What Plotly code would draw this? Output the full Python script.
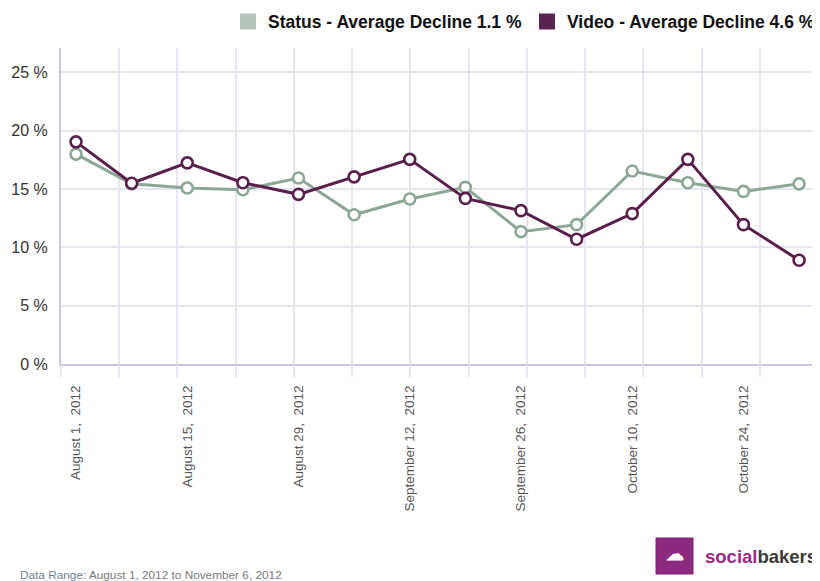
import plotly.graph_objects as go

weeks = ["August 1", "August 8", "August 15", "August 22", "August 29",
         "September 5", "September 12", "September 19", "September 26",
         "October 3", "October 10", "October 17", "October 24", "October 31"]
status_vals = [18.0, 15.45, 15.1, 14.95, 15.95, 12.8, 14.15, 15.15, 11.35, 11.95,
               16.55, 15.55, 14.8, 15.45]
video_vals = [19.05, 15.5, 17.25, 15.55, 14.55, 16.05, 17.55, 14.2, 13.15, 10.7,
              12.9, 17.55, 11.95, 8.9]
status_name = "Status - Average Decline 1.1 %"
video_name = "Video - Average Decline 4.6 %"
tick_labels = [w + ",  2012" for w in weeks]
y_ticks = [0, 5, 10, 15, 20, 25]
y_tick_text = [f"{v} %" for v in y_ticks]

STATUS = "#8da797"
STATUS_LEG = "#b4c4ba"
VIDEO = "#5a1e4b"
VIDEO_LEG = "#5b2350"
GRID = "#e6e6f1"
AXIS = "#c6c8e2"

# page body has an 8px default margin; layout coords are in screen px minus this offset
OFF = 8
W, H = 820, 581
L = 61 - OFF
T = 48 - OFF
R = W - (818 - OFF)
B = H - (364 - OFF)
pw, ph = W - L - R, H - T - B

fig = go.Figure()

# invisible trace to anchor the grid axis
fig.add_trace(go.Scatter(x=[0, len(weeks) - 1], y=[0, 0], xaxis="x2", yaxis="y",
                         mode="lines", line=dict(width=0), opacity=0,
                         hoverinfo="skip", showlegend=False))

for vals, col, name in [(status_vals, STATUS, status_name), (video_vals, VIDEO, video_name)]:
    fig.add_trace(go.Scatter(
        x=weeks, y=vals, mode="lines+markers", name=name, showlegend=False,
        line=dict(color=col, width=3),
        marker=dict(symbol="circle", size=11, color="white",
                    line=dict(color=col, width=2.6)),
    ))

for col, name in [(STATUS_LEG, status_name), (VIDEO_LEG, video_name)]:
    fig.add_trace(go.Scatter(x=[None], y=[None], mode="markers", name="<b>" + name + "</b>",
                             marker=dict(symbol="square", size=19, color=col)))

fig.update_layout(
    width=W, height=H,
    margin=dict(l=L, r=R, t=T, b=B, pad=0, autoexpand=False),
    paper_bgcolor="white", plot_bgcolor="white",
    font=dict(family="Liberation Sans, Arial, sans-serif", color="#333333"),
    showlegend=True,
    legend=dict(orientation="h", xref="container", yref="container",
                x=(820 - OFF) / W, xanchor="right", y=1 - 13.5 / H, yanchor="middle",
                font=dict(size=17.5, color="#111111"),
                bgcolor="rgba(0,0,0,0)", traceorder="normal"),
    xaxis=dict(
        type="category", range=[-0.27, len(weeks) - 1 + 0.34], automargin=False,
        showgrid=False, zeroline=False,
        showline=True, linecolor=AXIS, linewidth=2,
        tickmode="array", tickvals=weeks[::2], ticktext=tick_labels[::2],
        tickangle=-90, ticks="outside", ticklen=14, tickcolor="rgba(0,0,0,0)",
        tickfont=dict(size=13.5, color="#555555"),
    ),
    xaxis2=dict(
        overlaying="x", side="bottom", range=[0, len(weeks) - 1], automargin=False,
        showgrid=True, gridcolor=GRID, gridwidth=1.5, zeroline=False,
        dtick=1, tick0=0, showticklabels=False,
        ticks="outside", ticklen=12, tickcolor=GRID, tickwidth=1.5,
        showline=False,
    ),
    yaxis=dict(
        range=[0, 27.1], tickmode="array", tickvals=y_ticks, ticktext=y_tick_text,
        automargin=False,
        showgrid=True, gridcolor=GRID, gridwidth=1.5, zeroline=False,
        showline=True, linecolor=AXIS, linewidth=2, mirror=True,
        ticks="outside", ticklen=8, tickcolor="rgba(0,0,0,0)",
        tickfont=dict(size=16, color="#333333"),
    ),
)

def px(x):
    return (x - OFF - L) / pw

def py(y):
    return (H - B - (y - OFF)) / ph

fig.add_annotation(xref="paper", yref="paper", x=px(18), y=py(575), xanchor="left", yanchor="middle",
                   text="<span style='color:#6f8194'>Data Range:</span> August 1, 2012 to November 6, 2012",
                   showarrow=False, font=dict(size=11.8, color="#7a7a7a"))

# logo
fig.add_shape(type="rect", xref="paper", yref="paper", x0=px(656), x1=px(693), y0=py(574), y1=py(538),
              fillcolor="#8c2a7e", line=dict(color="#7a2370", width=1), layer="above")
fig.add_annotation(xref="paper", yref="paper", x=px(674.5), y=py(554), xanchor="center", yanchor="middle",
                   text="<b>☁</b>", showarrow=False, font=dict(size=18, color="white"))
fig.add_annotation(xref="paper", yref="paper", x=px(819), y=py(556), xanchor="right", yanchor="middle",
                   text="<b><span style='color:#9c2a88'>social</span><span style='color:#3b3b3b'>bakers</span></b>",
                   showarrow=False, font=dict(size=18.5, family="Liberation Sans, Arial", color="#3b3b3b"))

fig.write_html("out.html")
